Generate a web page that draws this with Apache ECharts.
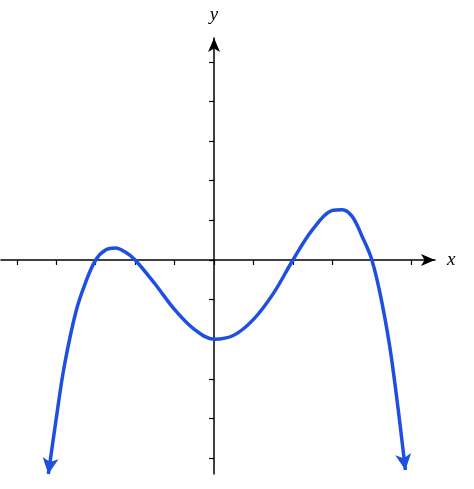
<!DOCTYPE html>
<html>
<head>
<meta charset="utf-8">
<script src="https://cdn.jsdelivr.net/npm/echarts@6/dist/echarts.min.js"></script>
<style>html,body{margin:0;padding:0;background:#fff}#main{width:474px;height:489px}</style>
</head>
<body>
<div id="main"></div>
<script>
// values
var curveX = [-4.2, -4, -3.8, -3.5, -3.25, -3, -2.75, -2.5, -2.25, -2, -1.5, -1, -0.5, 0, 0.5, 1, 1.5, 2, 2.5, 3, 3.25, 3.5, 3.75, 4, 4.25, 4.5, 4.85];
var curveY = [-5.4, -4.0, -2.7, -1.3, -0.55, 0, 0.25, 0.3, 0.2, 0, -0.6, -1.25, -1.75, -2, -1.9, -1.5, -0.85, 0, 0.77, 1.25, 1.27, 1.1, 0.6, 0, -1.05, -2.5, -5.3];
var tickVals = [-5, -4, -3, -2, -1, 0, 1, 2, 3, 4, 5];
var labelVals = [-5, -4, -3, -2, -1, 1, 2, 3, 4, 5];

var pts = curveX.map(function (x, i) { return [x, curveY[i]]; });
var data = pts.map(function (p, i) {
    if (i === 0) return { value: p, symbol: 'arrow', symbolSize: [12, 16], symbolRotate: 172 };
    if (i === pts.length - 1) return { value: p, symbol: 'arrow', symbolSize: [12, 16], symbolRotate: 188 };
    return { value: p, symbol: 'none' };
});

var labelFont = { color: '#000', fontSize: 17, fontFamily: 'Liberation Serif' };

var axisCommon = {
    type: 'value',
    splitLine: { show: false },
    axisLine: { onZero: true, symbol: ['none', 'arrow'], symbolSize: [9, 14], lineStyle: { color: '#000', width: 1.5 } },
    axisTick: { customValues: tickVals, length: 5, lineStyle: { color: '#000', width: 1.2 } },
    axisLabel: { show: false },
    nameTextStyle: { fontStyle: 'italic', fontSize: 19, fontFamily: 'Liberation Serif', color: '#000' }
};

var option = {
    animation: false,
    grid: { left: 1, right: 39, top: 38, bottom: 15, containLabel: false, outerBoundsMode: 'none' },
    xAxis: Object.assign({}, axisCommon, { min: -5.4, max: 5.6, name: 'x', nameGap: 12 }),
    yAxis: Object.assign({}, axisCommon, { min: -5.4, max: 5.6, name: 'y', nameGap: 14, nameLocation: 'end' }),
    series: [{
        type: 'line',
        smooth: 0.35,
        data: data,
        lineStyle: { color: '#1f4fe0', width: 3.5 },
        itemStyle: { color: '#1f4fe0' },
        z: 3
    }, {
        type: 'scatter',
        symbol: 'none',
        silent: true,
        data: labelVals.map(function (v) { return [v, 0]; }),
        label: Object.assign({ show: true, position: 'bottom', distance: 8, formatter: function (p) { return String(p.value[0]); } }, labelFont)
    }, {
        type: 'scatter',
        symbol: 'none',
        silent: true,
        data: labelVals.map(function (v) { return [0, v]; }),
        label: Object.assign({ show: true, position: 'left', distance: 6, formatter: function (p) { return String(p.value[1]); } }, labelFont)
    }]
};
var chart = echarts.init(document.getElementById('main'));
chart.setOption(option);
</script>
</body>
</html>
